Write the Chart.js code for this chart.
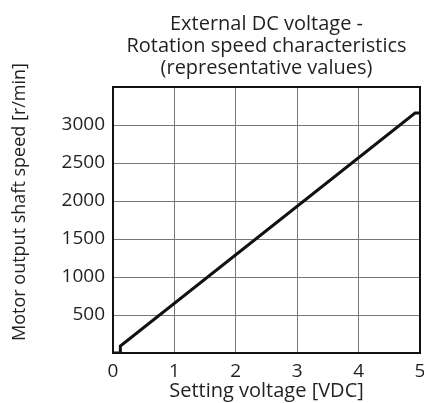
<!DOCTYPE html>
<html>
<head>
<meta charset="utf-8">
<script src="https://cdn.jsdelivr.net/npm/chart.js@4/dist/chart.umd.min.js"></script>
<style>
  html, body { margin: 0; padding: 0; background: #fff; overflow: hidden; }
  #wrap { width: 424px; height: 403px; }
</style>
</head>
<body>
<div id="wrap"><canvas id="speedChart" width="424" height="403"></canvas></div>
<script>
// setting voltage [VDC] vs. shaft speed [r/min]
const voltage = [0, 0.12, 0.12, 4.92, 5];
const speed = [0, 0, 92, 3158, 3158];

const titleLines = ["External DC voltage -", "Rotation speed characteristics", "(representative values)"];
const xTitle = "Setting voltage [VDC]";
const yTitle = "Motor output shaft speed [r/min]";
const yLabels = [500, 1000, 1500, 2000, 2500, 3000];

const FONT = "'Open Sans', 'Noto Sans', sans-serif";
const ink = "#231f20";

// rotated y axis label, sits a bit above the middle of the plot
const yTitlePlugin = {
  id: "yTitle",
  afterDraw(chart) {
    const ctx = chart.ctx;
    ctx.save();
    ctx.translate(20, 202);
    ctx.rotate(-Math.PI / 2);
    ctx.font = "18px " + FONT;
    ctx.fillStyle = ink;
    ctx.textAlign = "center";
    ctx.textBaseline = "middle";
    ctx.fillText(yTitle, 0, 0);
    ctx.restore();
  }
};

new Chart(document.getElementById("speedChart"), {
  type: "line",
  data: {
    datasets: [{
      data: voltage.map((v, i) => ({ x: v, y: speed[i] })),
      borderColor: "#111",
      borderWidth: 3,
      pointRadius: 0,
      tension: 0,
      fill: false
    }]
  },
  options: {
    responsive: false,
    animation: false,
    layout: { padding: { left: 0, right: 4, top: 0, bottom: 0 } },
    plugins: {
      legend: { display: false },
      tooltip: { enabled: false },
      title: {
        display: true,
        text: titleLines,
        fullSize: false,
        color: ink,
        font: { family: FONT, size: 20, weight: "normal", lineHeight: 1.1 },
        padding: { top: 13.5, bottom: 7.5 }
      }
    },
    scales: {
      x: {
        type: "linear",
        min: 0,
        max: 5,
        border: { display: false },
        grid: { color: "#777", lineWidth: 1, drawTicks: false },
        ticks: {
          stepSize: 1,
          padding: 7,
          color: ink,
          font: { family: FONT, size: 19 }
        },
        title: {
          display: true,
          text: xTitle,
          color: ink,
          font: { family: FONT, size: 20, lineHeight: 1.2 },
          padding: { top: 0, bottom: 0 }
        },
        afterFit(scale) {
          scale.height = 50;
          scale.paddingLeft = 0;
          scale.paddingRight = 0;
        }
      },
      y: {
        min: 0,
        max: 3500,
        border: { display: false },
        grid: { color: "#777", lineWidth: 1, drawTicks: false },
        ticks: {
          stepSize: 500,
          padding: 8,
          color: ink,
          font: { family: FONT, size: 19 },
          callback: v => yLabels.includes(v) ? String(v) : ""
        },
        afterFit(scale) {
          scale.width = 113;
          scale.paddingTop = 0;
          scale.paddingBottom = 0;
        }
      }
    }
  },
  plugins: [yTitlePlugin, {
    // black frame round the plot area
    id: "frame",
    afterDatasetsDraw(chart) {
      const { ctx, chartArea: a } = chart;
      ctx.save();
      ctx.strokeStyle = "#111";
      ctx.lineWidth = 2;
      ctx.strokeRect(a.left, a.top, a.right - a.left, a.bottom - a.top);
      ctx.restore();
    }
  }]
});
</script>
</body>
</html>
